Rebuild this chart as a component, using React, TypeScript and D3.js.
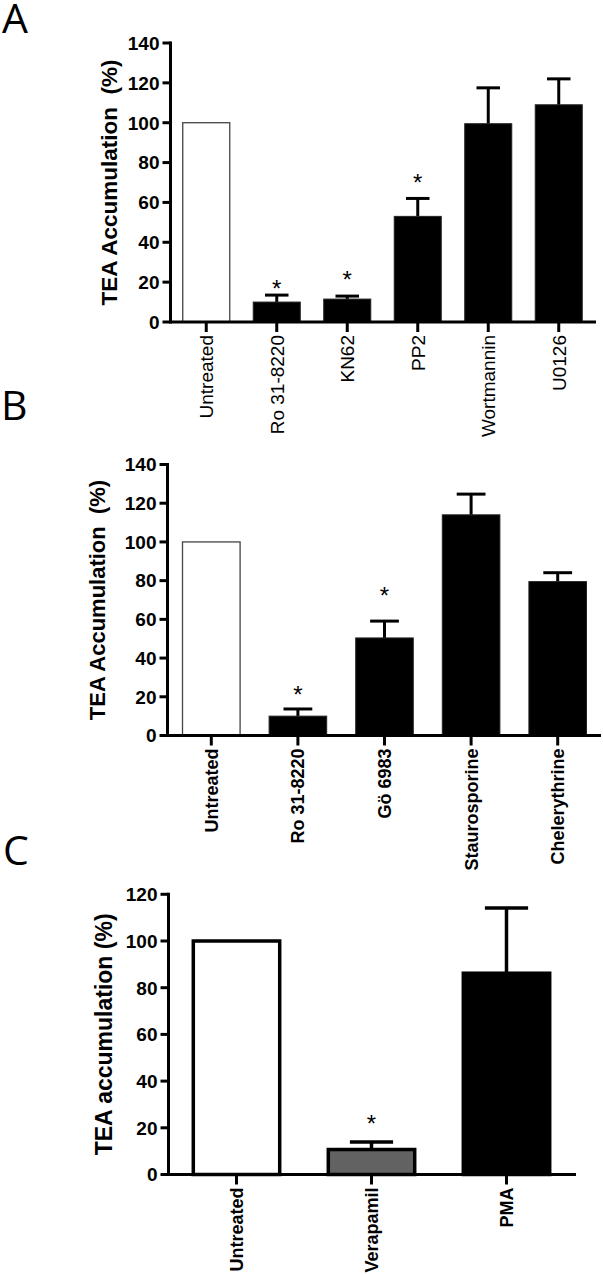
import React from 'react';
import * as d3 from 'd3';

// ---------- Panel A data ----------
const aCategories = ['Untreated', 'Ro 31-8220', 'KN62', 'PP2', 'Wortmannin', 'U0126'];
const aValues = [100, 10, 11.5, 53, 99.5, 109];
const aErrors = [0, 3.5, 1.5, 9, 18, 13];
const aStars: (number | null)[] = [null, 19.6, 24.1, 72.8, null, null];
const aFills = ['#ffffff', '#000000', '#000000', '#000000', '#000000', '#000000'];
const aTicks = [0, 20, 40, 60, 80, 100, 120, 140];

// ---------- Panel B data ----------
const bCategories = ['Untreated', 'Ro 31-8220', 'Gö 6983', 'Staurosporine', 'Chelerythrine'];
const bValues = [100, 10, 50.4, 114, 79.5];
const bErrors = [0, 3.7, 8.7, 10.7, 4.6];
const bStars: (number | null)[] = [null, 24, 75.2, null, null];
const bFills = ['#ffffff', '#000000', '#000000', '#000000', '#000000'];
const bTicks = [0, 20, 40, 60, 80, 100, 120, 140];

// ---------- Panel C data ----------
const cCategories = ['Untreated', 'Verapamil', 'PMA'];
const cValues = [100, 10.7, 86.2];
const cErrors = [0, 3.2, 27.9];
const cStars: (number | null)[] = [null, 24.2, null];
const cFills = ['#ffffff', '#626262', '#000000'];
const cTicks = [0, 20, 40, 60, 80, 100, 120];

const SANS = '"Liberation Sans", Arial, Helvetica, sans-serif';

type PanelProps = {
  categories: string[];
  values: number[];
  errors: number[];
  stars: (number | null)[];
  fills: string[];
  ticks: number[];
  yMax: number;
  xRange: [number, number];
  axisEnd: number;
  yRange: [number, number];
  padding: number;
  barStroke: string;
  barStrokeWidth: number;
  errWidth: number;
  labelSize: number;
  labelWeight: string | number;
  title: string;
  titleX: number;
  titleSize: number;
};

function Panel(p: PanelProps) {
  const x = d3.scaleBand<string>().domain(p.categories).range(p.xRange).padding(p.padding).paddingOuter(p.padding / 2);
  const y = d3.scaleLinear().domain([0, p.yMax]).range(p.yRange);
  const bw = x.bandwidth();
  const ax = p.xRange[0] - 0.5;
  const y0 = y(0);
  const starSize = 24;
  return (
    <g>
      {p.categories.map((c, i) => {
        const cx = (x(c) as number) + bw / 2;
        const v = p.values[i];
        const e = p.errors[i];
        const s = p.stars[i];
        const outlined = p.fills[i] === '#ffffff' || p.barStrokeWidth > 2;
        return (
          <g key={c}>
            {e > 0 && (
              <g stroke="#000" strokeWidth={p.errWidth}>
                <line x1={cx} x2={cx} y1={y(v)} y2={y(v + e)} />
                <line x1={cx - bw / 4} x2={cx + bw / 4} y1={y(v + e)} y2={y(v + e)} />
              </g>
            )}
            <rect
              x={x(c)}
              y={y(v)}
              width={bw}
              height={y0 - y(v)}
              fill={p.fills[i]}
              stroke={outlined ? p.barStroke : '#222'}
              strokeWidth={outlined ? p.barStrokeWidth : 1}
            />
            {s !== null && (
              <text x={cx} y={y(s) + starSize * 0.575} textAnchor="middle" fontFamily={SANS} fontSize={starSize}>
                *
              </text>
            )}
          </g>
        );
      })}
      {/* y axis */}
      <line x1={ax} x2={ax} y1={y0} y2={y(p.yMax)} stroke="#000" strokeWidth={3} strokeLinecap="square" />
      {p.ticks.map((t) => (
        <g key={t}>
          <line x1={ax - 8} x2={ax} y1={y(t)} y2={y(t)} stroke="#000" strokeWidth={3} />
          <text x={ax - 11} y={y(t)} dy="0.36em" textAnchor="end" fontFamily={SANS} fontWeight="bold" fontSize={19}>
            {t}
          </text>
        </g>
      ))}
      {/* x axis */}
      <line x1={ax} x2={p.axisEnd} y1={y0} y2={y0} stroke="#000" strokeWidth={3} />
      {p.categories.map((c) => {
        const cx = (x(c) as number) + bw / 2;
        return (
          <g key={'t' + c}>
            <line x1={cx} x2={cx} y1={y0} y2={y0 + 10} stroke="#000" strokeWidth={3} />
            <text
              transform={`translate(${cx},${y0 + 13}) rotate(-90)`}
              dy="0.36em"
              textAnchor="end"
              fontFamily={SANS}
              fontWeight={p.labelWeight}
              fontSize={p.labelSize}
            >
              {c}
            </text>
          </g>
        );
      })}
      <text
        transform={`translate(${p.titleX},${(y0 + y(p.yMax)) / 2}) rotate(-90)`}
        textAnchor="middle"
        fontFamily={SANS}
        fontWeight="bold"
        fontSize={p.titleSize}
        style={{ whiteSpace: 'pre' }}
      >
        {p.title}
      </text>
    </g>
  );
}

export default function App() {
  const letterFont = '"Open Sans", "Liberation Sans", sans-serif';
  return (
    <svg
      width={603}
      height={1275}
      style={{ position: 'absolute', left: 0, top: 0, background: '#fff' }}
      xmlns="http://www.w3.org/2000/svg"
    >
      <rect width={603} height={1275} fill="#fff" />
      <text x={2} y={33} fontFamily={letterFont} fontSize={41}>A</text>
      <text x={1} y={420} fontFamily={letterFont} fontSize={41}>B</text>
      <text x={3} y={865} fontFamily={letterFont} fontSize={41}>C</text>

      <Panel
        categories={aCategories}
        values={aValues}
        errors={aErrors}
        stars={aStars}
        fills={aFills}
        ticks={aTicks}
        yMax={140}
        xRange={[171, 594]}
        axisEnd={596}
        yRange={[322, 43]}
        padding={0.333}
        barStroke="#444"
        barStrokeWidth={1.3}
        errWidth={3}
        labelSize={19}
        labelWeight="normal"
        title="TEA Accumulation  (%)"
        titleX={117}
        titleSize={22.5}
      />
      <Panel
        categories={bCategories}
        values={bValues}
        errors={bErrors}
        stars={bStars}
        fills={bFills}
        ticks={bTicks}
        yMax={140}
        xRange={[168, 601]}
        axisEnd={601}
        yRange={[735.5, 464.5]}
        padding={0.335}
        barStroke="#444"
        barStrokeWidth={1.3}
        errWidth={3}
        labelSize={18}
        labelWeight="bold"
        title="TEA Accumulation  (%)"
        titleX={105}
        titleSize={22}
      />
      <Panel
        categories={cCategories}
        values={cValues}
        errors={cErrors}
        stars={cStars}
        fills={cFills}
        ticks={cTicks}
        yMax={120}
        xRange={[169, 574]}
        axisEnd={576}
        yRange={[1174.5, 894.3]}
        padding={0.36}
        barStroke="#000"
        barStrokeWidth={3.5}
        errWidth={3.5}
        labelSize={18}
        labelWeight="bold"
        title="TEA accumulation (%)"
        titleX={112}
        titleSize={23}
      />
    </svg>
  );
}
